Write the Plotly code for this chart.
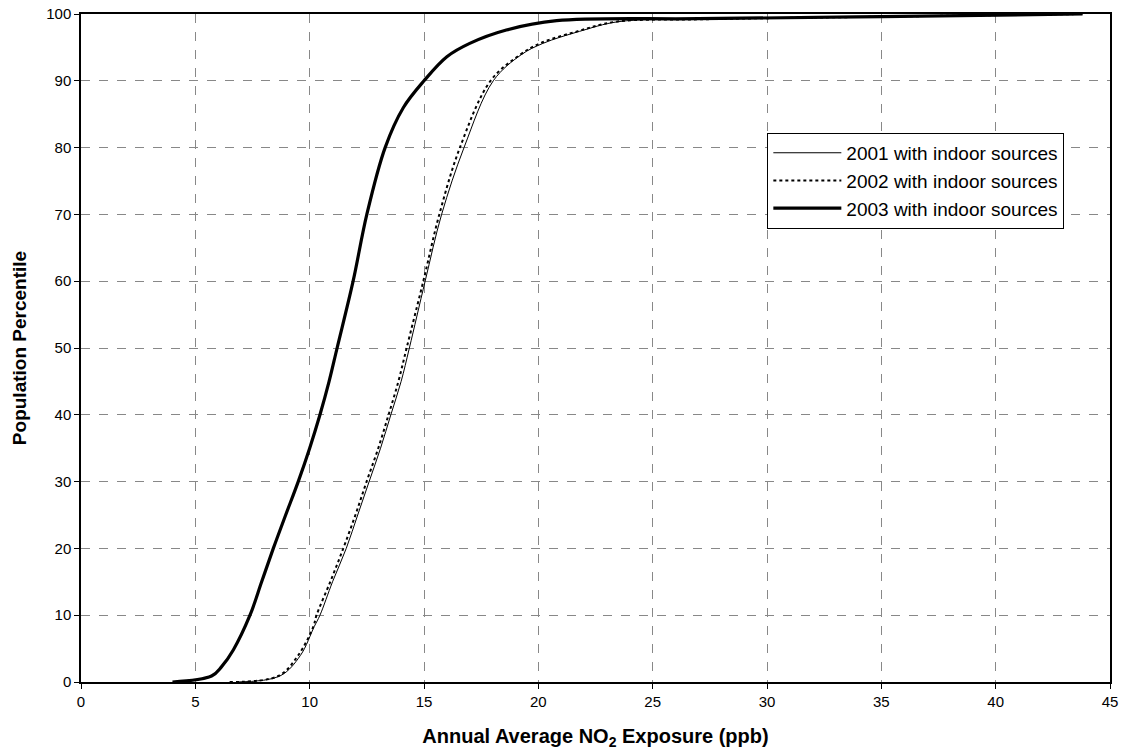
import plotly.graph_objects as go

# 2001 with indoor sources
x2001 = [6.8, 8.7, 9.6, 10.2, 10.45, 11.0, 11.6, 12.1, 12.6, 13.1, 13.55, 14.0, 14.36, 15.05, 15.77, 16.75, 18.03, 19.25, 20.2, 21.8, 23.5, 27.0, 35.0, 43.8]
y2001 = [0, 0.9, 4, 8.3, 10, 15, 20, 25, 30, 35, 40, 45, 50, 60, 70, 80, 90, 93.9, 95.6, 97.4, 98.85, 99.2, 99.6, 100]

# 2002 with indoor sources
x2002 = [6.5, 8.63, 9.5, 10.16, 10.3, 10.9, 11.47, 12.0, 12.49, 13.0, 13.45, 13.88, 14.24, 14.97, 15.67, 16.57, 17.91, 19.2, 20.07, 21.7, 23.4, 27.0, 35.0, 43.8]
y2002 = [0, 0.9, 4, 8.3, 10, 15, 20, 25, 30, 35, 40, 45, 50, 60, 70, 80, 90, 93.9, 95.6, 97.4, 98.85, 99.2, 99.6, 100]

# 2003 with indoor sources
x2003 = [4.0, 5.71, 6.15, 6.66, 7.39, 7.9, 8.41, 8.95, 9.5, 10.0, 10.45, 10.85, 11.2, 11.9, 12.5, 13.3, 14.1, 15.0, 16.0, 17.0, 18.6, 20.8, 27.0, 35.0, 43.8]
y2003 = [0, 0.9, 2.3, 4.8, 10, 15, 20, 25, 30, 35, 40, 45, 50, 60, 70, 80, 86, 90, 93.6, 95.6, 97.6, 99.0, 99.3, 99.6, 100]

x_ticks = list(range(0, 46, 5))
y_ticks = list(range(0, 101, 10))

FONT = "Liberation Sans, Arial, sans-serif"

fig = go.Figure()
fig.add_trace(go.Scatter(x=x2001, y=y2001, mode="lines", name="2001 with indoor sources",
                         legendgroup="a",
                         line=dict(color="black", width=1), line_shape="spline"))
fig.add_trace(go.Scatter(x=x2002, y=y2002, mode="lines", name="2002 with indoor sources",
                         legendgroup="b",
                         line=dict(color="black", width=2, dash="dot"), line_shape="spline"))
fig.add_trace(go.Scatter(x=x2003, y=y2003, mode="lines", name="2003 with indoor sources",
                         legendgroup="c",
                         line=dict(color="black", width=3.2), line_shape="spline"))

fig.update_layout(
    width=1122, height=750,
    margin=dict(l=81, r=12, t=14, b=68, autoexpand=False),
    paper_bgcolor="white", plot_bgcolor="white",
    font=dict(family=FONT, size=15, color="black"),
    showlegend=True,
    legend=dict(x=0.667, y=0.822, xanchor="left", yanchor="top",
                bgcolor="white", bordercolor="black", borderwidth=1,
                font=dict(size=19, family=FONT), tracegroupgap=0,
                itemwidth=68),
    xaxis=dict(range=[0, 45], tickvals=x_ticks, ticks="outside", ticklen=5,
               tickcolor="black", showline=True, linecolor="black", linewidth=1.5, mirror=True,
               showgrid=True, gridcolor="#888888", griddash="dash", gridwidth=1,
               zeroline=False, automargin=False,
               title=dict(text="<b>Annual Average NO<sub>2</sub> Exposure (ppb)</b>",
                          font=dict(size=20, family=FONT), standoff=23)),
    yaxis=dict(range=[0, 100], tickvals=y_ticks, ticks="outside", ticklen=5,
               tickcolor="black", showline=True, linecolor="black", linewidth=1.5, mirror=True,
               showgrid=True, gridcolor="#888888", griddash="dash", gridwidth=1,
               zeroline=False, automargin=False,
               title=dict(text="<b>Population Percentile</b>",
                          font=dict(size=19, family=FONT), standoff=15)),
)

fig.write_html("out.html", config={"displayModeBar": False},
               post_script="document.body.style.margin='0';document.body.style.padding='0';document.body.style.overflow='hidden';")
